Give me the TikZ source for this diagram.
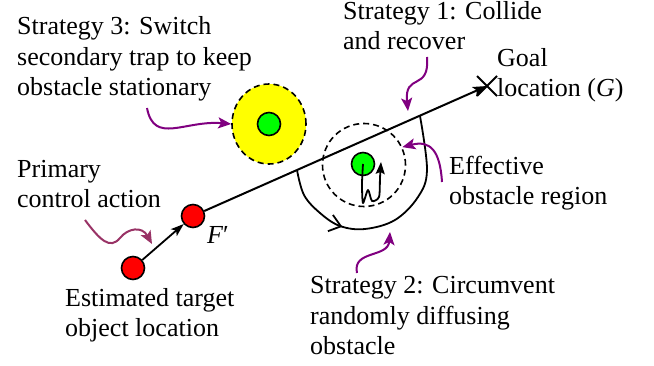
\documentclass[tikz,border=0pt]{standalone}
\usepackage{fontspec}
\setmainfont{Liberation Serif}
\usetikzlibrary{arrows.meta,shapes.geometric,decorations.markings,calc}
\definecolor{callpurple}{HTML}{800080}
\definecolor{callplum}{HTML}{993366}
\definecolor{ballred}{HTML}{FF0000}
\definecolor{ballgreen}{HTML}{00FF00}
\definecolor{trapyellow}{HTML}{FFFF00}

\begin{document}
\begin{tikzpicture}[x=1pt,y=-1pt,
  lbl/.style={anchor=base west, inner sep=0pt, align=left,
              font=\fontsize{26}{30.5}\selectfont},
  ball/.style={circle, draw=black, line width=1.6pt, minimum size=23pt, inner sep=0pt},
  ring/.style={draw=black, line width=1.6pt, dash pattern=on 6pt off 4pt, inner sep=0pt},
  mainline/.style={draw=black, line width=2pt, -{Stealth[length=14pt,width=10pt,inset=3pt]}},
  callout/.style={draw=callpurple, line width=2pt, -{Stealth[length=13pt,width=11pt,inset=3pt]}},
  walk/.style={draw=black, line width=1.8pt, line join=round,
               -{Stealth[length=12pt,width=9pt,inset=2pt]}},
  detour/.style={draw=black, line width=1.8pt,
    postaction={decorate},
    decoration={markings, mark=at position 0.31 with
      {\arrow{Straight Barb[length=11pt,width=17pt,line width=1.8pt]}}}}]
\useasboundingbox (0,0) rectangle (654,366);

% secondary trap holding a stationary obstacle
\node[ring, ellipse, fill=trapyellow, minimum width=74pt, minimum height=80pt] (trap) at (269,124) {};
\node[ball, fill=ballgreen] (obs1) at (269,124) {};

% effective region around the diffusing obstacle
\node[ring, circle, minimum size=83pt] (eff) at (364,165) {};
\node[ball, fill=ballgreen] (obs2) at (363,164) {};

% target positions
\node[ball, fill=ballred] (est) at (133,268) {};
\node[ball, fill=ballred] (f) at (193,216) {};
\node[font=\fontsize{26}{30.5}\selectfont, inner sep=0pt] (flbl) at (218,235) {\textit{F}′};

% goal marker
\coordinate (goal) at (487,86);
\draw[line width=1.8pt] ($(goal)+(-10,-10)$) -- ($(goal)+(10,10)$)
                        ($(goal)+(-10,10)$) -- ($(goal)+(10,-10)$);

% primary control action and straight route to the goal
\draw[line width=1.8pt, -{Stealth[length=13pt,width=9pt,inset=3pt]}] (est) -- (f);
\draw[mainline] (f) -- (goal);

% random motion of the obstacle
\draw[walk] plot[smooth, tension=0.45] coordinates
  {(obs2.center) (362,184) (363,203) (368,190) (372,201) (379,197) (380,178) (381,162)};

% circumventing detour
\draw[detour] plot[smooth, tension=0.6] coordinates
  {(297,170) (304,195) (320,213) (340,226) (365,229) (395,220) (418,197) (427,170) (420,116)};

% labels (anchored at the baseline of their last line)
\node[lbl] (s3) at (17,96) {Strategy 3: Switch\\secondary trap to keep\\obstacle stationary};
\node[lbl] (pca) at (17,208) {Primary\\control action};
\node[lbl] (etl) at (65,337) {Estimated target\\object location};
\node[lbl] (s1) at (343,50) {Strategy 1: Collide\\and recover};
\node[lbl] (gl) at (497,97) {Goal\\location (\textit{G})};
\node[lbl] (eor) at (449,205) {Effective\\obstacle region};
\node[lbl] (s2) at (310,355) {Strategy 2: Circumvent\\randomly diffusing\\obstacle};

% callout arrows
\coordinate (s3a) at (147,108);
\coordinate (pcaa) at (85,220);
\coordinate (pcab) at (152,244);
\coordinate (s1a) at (427,57);
\coordinate (s1b) at (408,111);
\coordinate (eora) at (442,182);
\coordinate (s2a) at (357,273);
\coordinate (s2b) at (390,232);

\draw[callout] (s3a) .. controls (154,145) and (185,120) .. (trap.west);
\draw[callout, draw=callplum] (pcaa) .. controls (100,240) and (110,250) .. (120,238)
                               .. controls (128,228) and (142,226) .. (pcab);
\draw[callout] (s1a) .. controls (430,92) and (404,72) .. (s1b);
\draw[callout] (eora) .. controls (440,150) and (430,140) .. (eff.25);
\draw[callout] (s2a) .. controls (352,250) and (388,258) .. (s2b);
\end{tikzpicture}
\end{document}
